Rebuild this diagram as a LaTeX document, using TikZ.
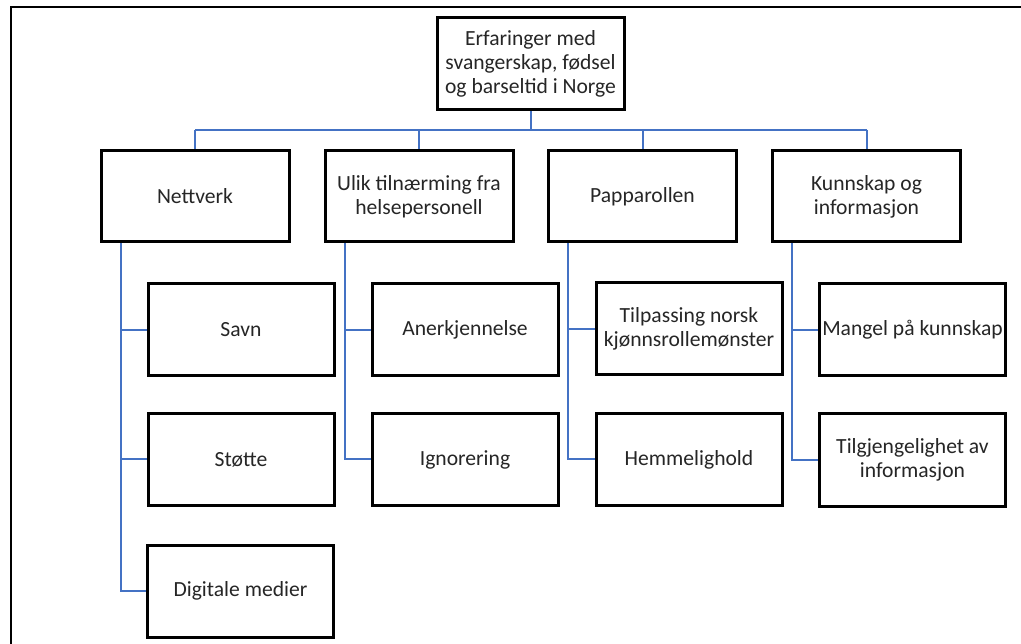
\documentclass[tikz,border=0pt]{standalone}
\usepackage{fontspec}
\setmainfont{Carlito}
\definecolor{conn}{HTML}{4472C4}
\definecolor{txt}{HTML}{262626}
\begin{document}
\begin{tikzpicture}[x=1pt,y=-1pt,
  box/.style={draw=black,line width=3pt,fill=white,align=center,text=txt,
    font=\fontsize{21.6}{24}\selectfont,inner sep=0pt},
  rootbox/.style={box,minimum width=187pt,minimum height=92pt},
  topbox/.style={box,minimum width=188pt,minimum height=91pt},
  subbox/.style={box,minimum width=186pt,minimum height=92pt},
  link/.style={draw=conn,line width=2pt}]
\useasboundingbox (0,0) rectangle (1021,644);
\fill[white] (0,0) rectangle (1021,644);
\draw[line width=2pt] (10.5,644) -- (10.5,6.8) -- (1021,6.8);

\node[rootbox] (root) at (530.5,64) {Erfaringer med\\svangerskap, fødsel\\og barseltid i Norge};

\node[topbox] (n1) at (195,196.5) {Nettverk};
\node[topbox] (n2) at (419,196.5) {Ulik tilnærming fra\\helsepersonell};
\node[topbox] (n3) at (642.5,196.5) {Papparollen};
\node[topbox] (n4) at (866.5,196.5) {Kunnskap og\\informasjon};

\node[subbox] (c11) at (241,330) {Savn};
\node[subbox] (c12) at (241,459.5) {Støtte};
\node[subbox] (c13) at (240.5,591) {Digitale medier};

\node[subbox] (c21) at (465,330) {Anerkjennelse};
\node[subbox] (c22) at (465,459.5) {Ignorering};

\node[subbox] (c31) at (689,329) {Tilpassing norsk\\kjønnsrollemønster};
\node[subbox] (c32) at (689,459.5) {Hemmelighold};

\node[subbox] (c41) at (912.5,330) {Mangel på kunnskap};
\node[subbox] (c42) at (912.5,460) {Tilgjengelighet av\\informasjon};

\coordinate (bus) at (0,130);
\coordinate (t1) at (121,0);
\coordinate (t2) at (344.5,0);
\coordinate (t3) at (568,0);
\coordinate (t4) at (791.5,0);

\draw[link] (root.south) -- (root.south |- bus);
\draw[link] (n1.north |- bus) -- (n4.north |- bus);
\foreach \n in {n1,n2,n3,n4} \draw[link] (\n.north |- bus) -- (\n.north);

\draw[link] (n1.south -| t1) |- (c13.west);
\draw[link] (t1 |- c11.west) -- (c11.west);
\draw[link] (t1 |- c12.west) -- (c12.west);

\draw[link] (n2.south -| t2) |- (c22.west);
\draw[link] (t2 |- c21.west) -- (c21.west);

\draw[link] (n3.south -| t3) |- (c32.west);
\draw[link] (t3 |- c31.west) -- (c31.west);

\draw[link] (n4.south -| t4) |- (c42.west);
\draw[link] (t4 |- c41.west) -- (c41.west);
\end{tikzpicture}
\end{document}
